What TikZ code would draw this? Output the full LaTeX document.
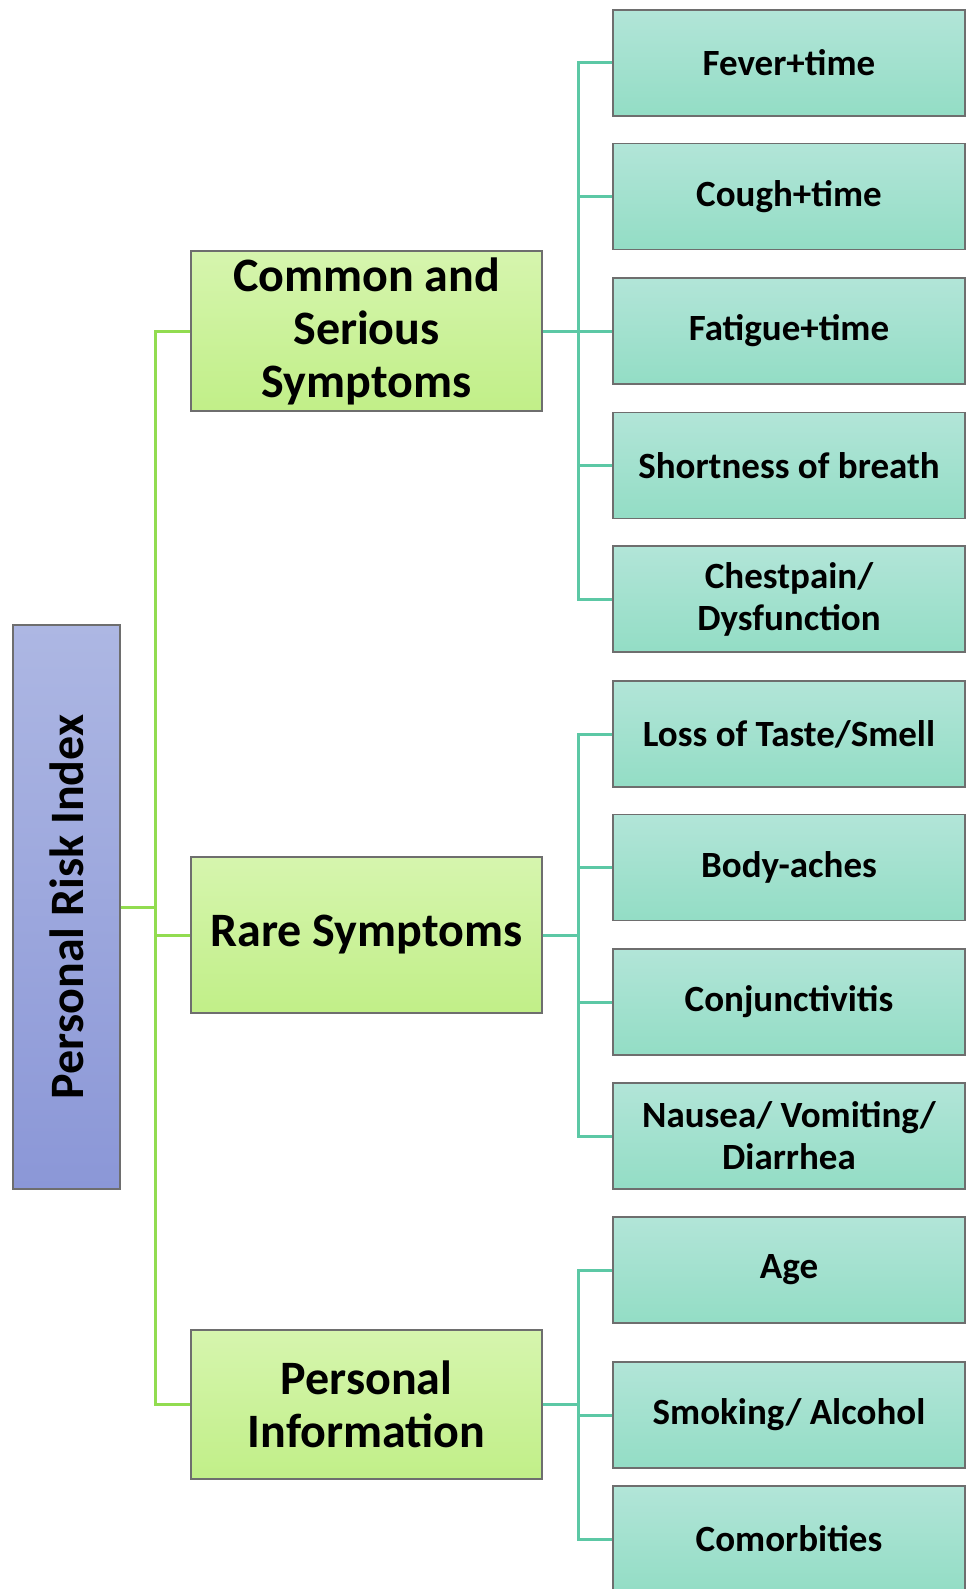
\documentclass[tikz,border=0pt]{standalone}
\usepackage{fontspec}
\setmainfont{Carlito}
\definecolor{rootTop}{RGB}{173,183,227}
\definecolor{rootBot}{RGB}{139,151,215}
\definecolor{midTop}{RGB}{214,245,174}
\definecolor{midBot}{RGB}{193,239,136}
\definecolor{leafTop}{RGB}{178,229,216}
\definecolor{leafBot}{RGB}{147,221,197}
\definecolor{greenLine}{RGB}{146,220,80}
\definecolor{tealLine}{RGB}{92,200,165}
\definecolor{edge}{RGB}{110,110,110}
\begin{document}
\begin{tikzpicture}[x=1pt,y=-1pt,
  box/.style={draw=edge, line width=1.3pt, inner sep=0pt, align=center},
  rootbox/.style={box, top color=rootTop, bottom color=rootBot, minimum width=107pt, minimum height=564pt},
  midbox/.style={box, top color=midTop, bottom color=midBot, minimum width=351pt,
    font=\fontsize{48}{53}\selectfont\bfseries},
  leafbox/.style={box, top color=leafTop, bottom color=leafBot, minimum width=352pt, minimum height=106pt,
    font=\fontsize{37}{42}\selectfont\bfseries},
  gline/.style={draw=greenLine, line width=3pt},
  tline/.style={draw=tealLine, line width=3pt}]
\useasboundingbox (0,0) rectangle (968,1589);
\fill[white] (0,0) rectangle (968,1589);

% root
\node[rootbox] (root) at (66.5,907) {};
\node[rotate=90, font=\fontsize{48}{53}\selectfont\bfseries] (rootlbl) at (root.center) {Personal Risk Index};

% middle nodes
\node[midbox, minimum height=160pt] (common) at (366.5,331) {Common and\\Serious\\Symptoms};
\node[midbox, minimum height=156pt] (rare) at (366.5,935) {Rare Symptoms};
\node[midbox, minimum height=149pt] (personal) at (366.5,1404.5) {Personal\\Information};

% leaves
\node[leafbox] (l1) at (789,63) {Fever+time};
\node[leafbox] (l2) at (789,196.5) {Cough+time};
\node[leafbox] (l3) at (789,331) {Fatigue+time};
\node[leafbox] (l4) at (789,465.5) {Shortness of breath};
\node[leafbox] (l5) at (789,599) {Chestpain/\\Dysfunction};
\node[leafbox] (l6) at (789,734) {Loss of Taste/Smell};
\node[leafbox] (l7) at (789,867.5) {Body-aches};
\node[leafbox] (l8) at (789,1002) {Conjunctivitis};
\node[leafbox] (l9) at (789,1136) {Nausea/ Vomiting/\\Diarrhea};
\node[leafbox] (l10) at (789,1270) {Age};
\node[leafbox] (l11) at (789,1415) {Smoking/ Alcohol};
\node[leafbox] (l12) at (789,1539) {Comorbities};

% green connectors
\coordinate (gx) at (155,0);
\draw[gline] (common.west) -- (common.west -| gx) |- (personal.west);
\draw[gline] (rare.west) -- (rare.west -| gx);
\draw[gline] (root.east) -- (root.east -| gx);

% teal connectors
\coordinate (tx) at (578,0);
\draw[tline] (l1.west) -- (l1.west -| tx) |- (l5.west);
\draw[tline] (l2.west) -- (l2.west -| tx);
\draw[tline] (l3.west) -- (l3.west -| tx);
\draw[tline] (l4.west) -- (l4.west -| tx);
\draw[tline] (common.east) -- (common.east -| tx);

\draw[tline] (l6.west) -- (l6.west -| tx) |- (l9.west);
\draw[tline] (l7.west) -- (l7.west -| tx);
\draw[tline] (l8.west) -- (l8.west -| tx);
\draw[tline] (rare.east) -- (rare.east -| tx);

\draw[tline] (l10.west) -- (l10.west -| tx) |- (l12.west);
\draw[tline] (l11.west) -- (l11.west -| tx);
\draw[tline] (personal.east) -- (personal.east -| tx);
\end{tikzpicture}
\end{document}
